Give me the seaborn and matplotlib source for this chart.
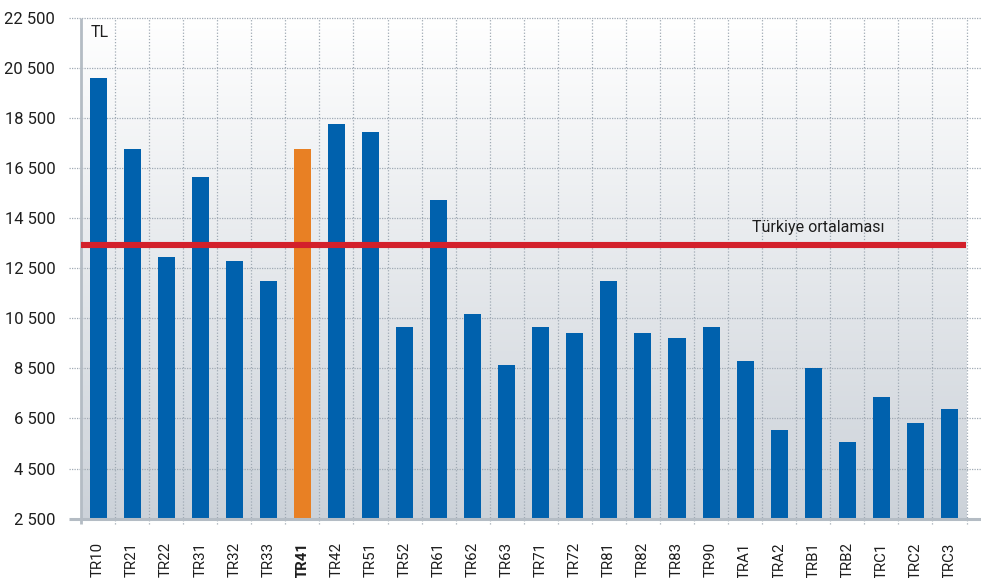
import numpy as np
import pandas as pd
import matplotlib
matplotlib.use("Agg")
import matplotlib.pyplot as plt
from matplotlib import font_manager
from matplotlib.colors import LinearSegmentedColormap
import seaborn as sns

# Données
regions = ["TR10", "TR21", "TR22", "TR31", "TR32", "TR33", "TR41", "TR42", "TR51",
           "TR52", "TR61", "TR62", "TR63", "TR71", "TR72", "TR81", "TR82", "TR83",
           "TR90", "TRA1", "TRA2", "TRB1", "TRB2", "TRC1", "TRC2", "TRC3"]
values = [20100, 17250, 12950, 16130, 12780, 11980, 17250, 18250, 17930,
          10150, 15220, 10660, 8630, 10150, 9900, 11980, 9900, 9700,
          10150, 8790, 6030, 8510, 5550, 7350, 6310, 6870]
highlight = "TR41"
turkiye_avg = 13420
y_ticks = [2500, 4500, 6500, 8500, 10500, 12500, 14500, 16500, 18500, 20500, 22500]

df = pd.DataFrame({"region": regions, "value": values})

sns.set_style("white")
names = {f.name for f in font_manager.fontManager.ttflist}
fam = "Liberation Sans Narrow" if "Liberation Sans Narrow" in names else "Roboto"
plt.rcParams["font.family"] = [fam, "DejaVu Sans"]

blue = "#0061AD"
orange = "#E88024"
red = "#D3202B"
grid_c = "#A0AAB4"
txt_c = "#1E1E1E"

fig = plt.figure(figsize=(9.81, 5.78), dpi=100)
W, H = 981, 578
ax = fig.add_axes([81 / W, 1 - 518.7 / H, (966.5 - 81) / W, (518.7 - 17.5) / H])

# Fond dégradé
cmap = LinearSegmentedColormap.from_list("bg", ["#FFFFFF", "#CCD2D9"])
ax.imshow(np.linspace(0, 1, 256).reshape(-1, 1), cmap=cmap, aspect="auto",
          extent=[-0.5, len(regions) - 0.5, 2500, 22500], origin="upper", zorder=0)

palette = {r: (orange if r == highlight else blue) for r in regions}
sns.barplot(data=df, x="region", y="value", hue="region", palette=palette,
            width=0.5, saturation=1, legend=False, linewidth=0, ax=ax, zorder=3)

ax.set_xlim(-0.5, len(regions) - 0.5)
ax.set_ylim(2500, 22500)

# Grilles pointillées
ext_l = 12 / (966.5 - 81)
ext_r = 15 / (966.5 - 81)
ax.hlines(y_ticks[1:], -ext_l, 1 + ext_r, transform=ax.get_yaxis_transform(),
          colors=grid_c, linestyles=(0, (1, 1)), linewidth=0.9, clip_on=False, zorder=1)
ax.vlines(np.arange(0.5, len(regions), 1), -5 / 501, 1, transform=ax.get_xaxis_transform(),
          colors=grid_c, linestyles=(0, (1, 1.5)), linewidth=0.9, clip_on=False, zorder=1)

# Ligne de base et axe gauche
ax.hlines([2500], -ext_l, 1 + ext_r, transform=ax.get_yaxis_transform(),
          colors="#B4BCC4", linewidth=2.2, clip_on=False, zorder=4)
ax.vlines([-0.5], -5 / 501, 1, transform=ax.get_xaxis_transform(),
          colors="#B4BCC4", linewidth=2, clip_on=False, zorder=4)

# Moyenne de la Turquie
ax.axhline(turkiye_avg, color=red, linewidth=4.4, zorder=5)
ax.text(21.15, turkiye_avg + 400, "Türkiye ortalaması", fontsize=11.5, color=txt_c,
        ha="center", va="bottom", zorder=6)
ax.text(0.011, 0.985, "TL", transform=ax.transAxes, fontsize=11.5, color=txt_c,
        ha="left", va="top", zorder=6)

for s in ax.spines.values():
    s.set_visible(False)

ax.set_yticks(y_ticks)
ax.set_yticklabels([f"{v:,}".replace(",", " ") for v in y_ticks],
                   fontsize=12, color=txt_c)
ax.tick_params(axis="y", length=0, pad=18.5)
ax.tick_params(axis="x", length=0, pad=17)
ax.set_xticks(range(len(regions)))
ax.set_xticklabels(regions, rotation=90, fontsize=10.8, color=txt_c, va="top")
for lab in ax.get_xticklabels():
    if lab.get_text() == highlight:
        lab.set_fontweight("bold")
ax.set_xlabel("")
ax.set_ylabel("")

fig.savefig("out.png", dpi=100)
